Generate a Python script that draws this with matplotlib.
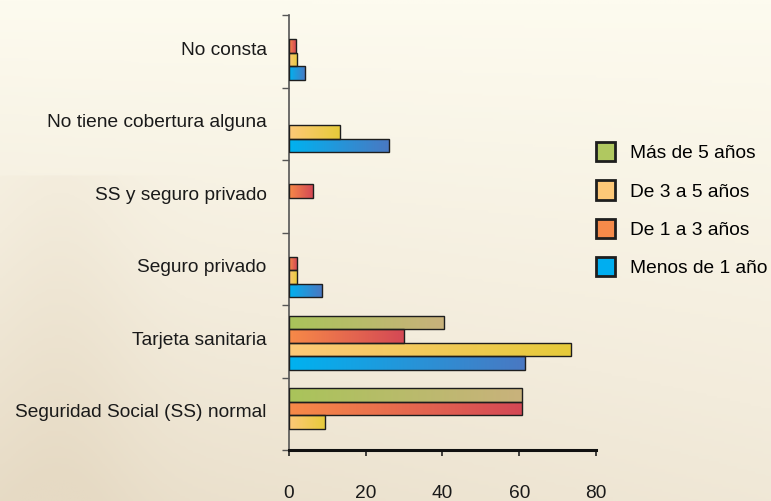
import numpy as np
import matplotlib
matplotlib.use("Agg")
import matplotlib.pyplot as plt
from matplotlib.patches import Patch
from matplotlib.colors import LinearSegmentedColormap

plt.rcParams['font.family'] = ['Liberation Sans', 'DejaVu Sans']

# categories, bottom to top
categories = ["Seguridad Social (SS) normal", "Tarjeta sanitaria", "Seguro privado",
              "SS y seguro privado", "No tiene cobertura alguna", "No consta"]

# series values (same order as categories)
mas_5 = [60.6, 40.4, 0.0, 0.0, 0.0, 0.0]
de_1_3 = [60.6, 30.1, 2.0, 6.2, 0.0, 1.8]
de_3_5 = [9.5, 73.4, 2.0, 0.0, 13.2, 2.2]
menos_1 = [0.0, 61.6, 8.5, 0.0, 26.1, 4.2]

legend_labels = ["Más de 5 años", "De 3 a 5 años", "De 1 a 3 años", "Menos de 1 año"]
xticks = [0, 20, 40, 60, 80]

# gradient colours (start, end) and flat legend colour
grad = {
    "mas_5": ("#a9c45a", "#c9b27c", "#b0c860"),
    "de_1_3": ("#f78a48", "#d44855", "#f58a4a"),
    "de_3_5": ("#fdc878", "#e6cb3a", "#fdc878"),
    "menos_1": ("#00b2f0", "#4a78c2", "#00aef0"),
}

fs = 13.8

fig = plt.figure(figsize=(7.71, 5.01), dpi=100)

# soft photo-like background
bg = fig.add_axes([0, 0, 1, 1], zorder=-10)
yy, xx = np.mgrid[0:1:200j, 0:1:300j]
shade = 0.55 * yy + 0.25 * (1 - xx) * yy + 0.15 * np.exp(-((xx - 0.08) ** 2) / 0.01) * (yy > 0.35)
bg_cmap = LinearSegmentedColormap.from_list("bg", ["#fdfbef", "#f3ecdc", "#e6dac4"])
bg.imshow(shade, cmap=bg_cmap, aspect='auto', extent=[0, 1, 0, 1], origin='upper', vmin=0, vmax=0.9)
bg.axis('off')

ax = fig.add_axes([0.3748, 0.1018, 0.773 - 0.3748, 0.970 - 0.1018])
ax.patch.set_alpha(0)

y = np.arange(len(categories))
h = 0.185
shift = -0.02
series = [(mas_5, "mas_5", 1.5), (de_1_3, "de_1_3", 0.5), (de_3_5, "de_3_5", -0.5), (menos_1, "menos_1", -1.5)]

for vals, key, k in series:
    c0, c1, _ = grad[key]
    cmap = LinearSegmentedColormap.from_list(key, [c0, c1])
    bars = ax.barh(y + k * h + shift, vals, height=h, color='none', edgecolor='#1e1e1e', linewidth=1.0, zorder=3)
    for b, v in zip(bars, vals):
        if v <= 0:
            b.set_visible(False)
            continue
        x0, y0 = b.get_x(), b.get_y()
        w, hh = b.get_width(), b.get_height()
        im = ax.imshow(np.linspace(0, 1, 256).reshape(1, -1), cmap=cmap, aspect='auto',
                       extent=[x0, x0 + w, y0, y0 + hh], zorder=2, interpolation='bicubic')
        im.set_clip_path(b)

ax.set_xlim(0, 80)
ax.set_ylim(-0.5, len(categories) - 0.5)

ax.set_yticks(y + 0.04)
ax.set_yticklabels(categories, fontsize=fs, color='#1a1a1a')
ax.tick_params(axis='y', which='major', length=0, pad=16)
ax.set_yticks(np.arange(-0.5, len(categories), 1.0), minor=True)
ax.tick_params(axis='y', which='minor', length=5, width=1, color='#555555')

ax.set_xticks(xticks)
ax.set_xticklabels([str(t) for t in xticks], fontsize=fs, color='#1a1a1a')
ax.tick_params(axis='x', length=4, width=1.2, color='#222222', pad=21)

for s in ['top', 'right']:
    ax.spines[s].set_visible(False)
ax.spines['left'].set_color('#555555')
ax.spines['left'].set_linewidth(1.2)
ax.spines['bottom'].set_color('#111111')
ax.spines['bottom'].set_linewidth(2.2)

handles = [Patch(facecolor=grad[k][2], edgecolor='#1e1e1e', linewidth=2)
           for k in ["mas_5", "de_3_5", "de_1_3", "menos_1"]]
fig.legend(handles, legend_labels, loc='upper left', bbox_to_anchor=(0.773, 0.716),
           frameon=False, fontsize=fs, handlelength=1.0, handleheight=1.15,
           labelspacing=0.95, handletextpad=0.75, borderpad=0, borderaxespad=0)

fig.savefig("out.png", dpi=100)
